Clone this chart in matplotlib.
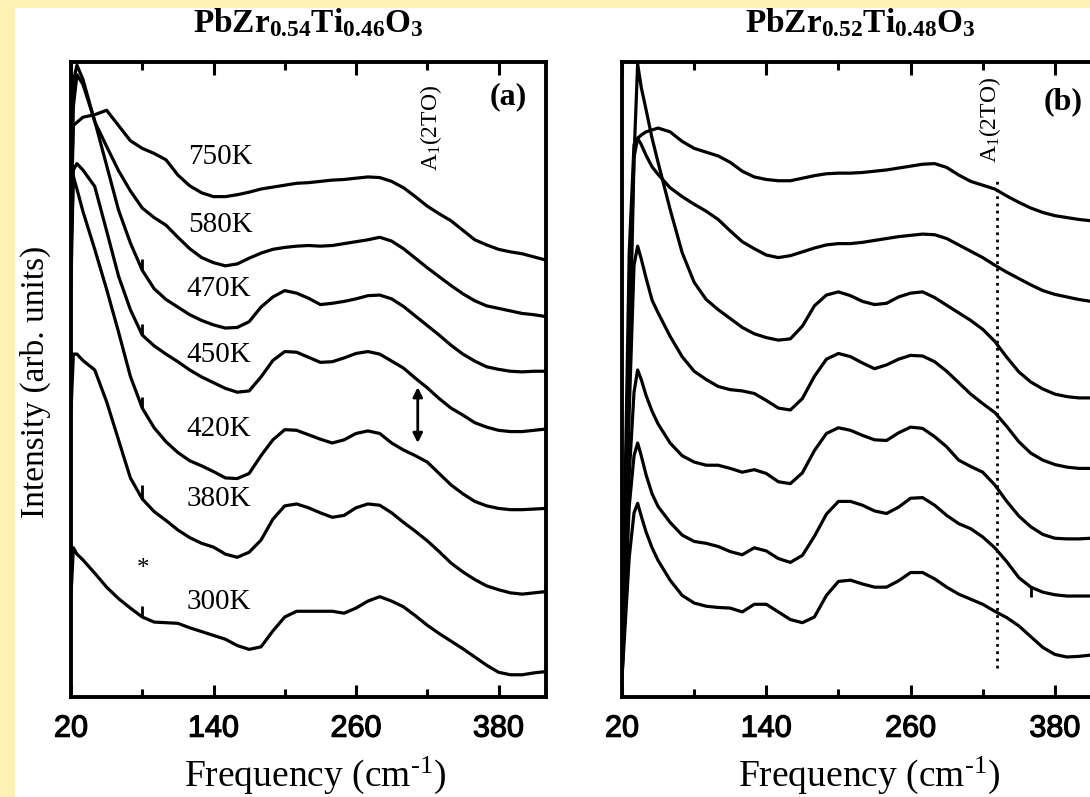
import matplotlib
matplotlib.use('Agg')
from matplotlib import pyplot as plt
from matplotlib import patheffects
from matplotlib.patches import Rectangle

# fonts: serif for labels, sans for tick numbers
plt.rcParams['font.family'] = 'Liberation Sans'
plt.rcParams['mathtext.fontset'] = 'custom'
plt.rcParams['mathtext.rm'] = 'Liberation Serif'
plt.rcParams['mathtext.it'] = 'Liberation Serif:italic'
plt.rcParams['mathtext.bf'] = 'Liberation Serif:bold'
SERIF = 'Liberation Serif'

# ---- panel (a): PbZr0.54Ti0.46O3, intensity in arb. units (0-100 of the frame)
freq_a = [20, 22, 25, 30, 40, 50, 60, 70, 80, 90, 100, 110, 120, 130, 140, 150, 160, 170,
          180, 190, 200, 210, 220, 230, 240, 250, 260, 270, 280, 290, 300, 310, 320, 330,
          340, 350, 360, 370, 380, 390, 400, 410, 420]
a_750K = [75, 90, 90.5, 91.3, 91.7, 92.4, 90, 87.6, 86.4, 85.6, 84.6, 82.2, 80.5, 79.4, 78.8,
          78.8, 79.1, 79.5, 80, 80.3, 80.6, 80.9, 81, 81.2, 81.4, 81.5, 81.7, 81.9, 81.8, 81.2,
          80.2, 78.8, 77.3, 76.1, 75, 73.5, 72, 71.2, 70.5, 70.1, 69.8, 69.3, 68.8]
a_580K = [85, 97, 99.5, 97.3, 90.6, 86.7, 82.9, 79.7, 77, 75.5, 74.3, 72.4, 70.6, 69.2, 68.4,
          67.9, 68.2, 69.1, 69.9, 70.5, 70.8, 71, 71.1, 71, 71.1, 71.4, 71.7, 72, 72.4, 71.8,
          70.6, 69.1, 67.6, 66.2, 64.8, 63.5, 62.4, 61.6, 61.2, 60.8, 60.4, 60.2, 59.9]
a_470K = [75, 93, 98, 96.5, 90.7, 83.7, 76.7, 71.5, 67.2, 64.3, 62.6, 61.4, 60.2, 59.3, 58.6,
          58.1, 58.2, 59.1, 61.4, 63, 64, 63.6, 62.8, 61.8, 62, 62.3, 62.7, 63.2, 63.3, 62.7,
          61.5, 60, 58.5, 57, 55.4, 54, 52.9, 52, 51.6, 51.3, 51.2, 51.3, 51.3]
a_450K = [65, 83, 84, 83, 80.4, 73.4, 66.3, 61, 57, 55.3, 54, 52.8, 51.5, 50.4, 49.5,
          48.6, 48, 48.2, 50.4, 53, 54.4, 54.3, 53.5, 52.7, 52.8, 53.4, 54.1, 54.4, 54, 52.9,
          51.8, 50.2, 48.7, 47, 45.5, 44.4, 43.2, 42.5, 42, 41.8, 41.8, 42, 42.2]
a_420K = [70, 82, 80, 76.5, 70.5, 64.2, 57.5, 50.5, 45.5, 42.4, 40.2, 38.5, 37.2, 36.4, 35.5,
          34.5, 34.4, 35.2, 38, 40.5, 42.1, 42, 41.3, 40.6, 40, 40.5, 41.5, 41.9, 41.5, 40,
          38.9, 38, 37, 35.2, 33.4, 32, 30.8, 30.1, 29.7, 29.5, 29.5, 29.6, 29.7]
a_380K = [45, 54, 54, 53, 51.5, 46.5, 40.5, 34.5, 31.2, 29.2, 27.8, 26.3, 25.1, 24.2, 23.6,
          22.5, 22, 22.8, 24.7, 28, 30.1, 30.4, 29.8, 29, 28.3, 28.6, 29.8, 30.4, 30.2, 29,
          27.5, 26.1, 24.6, 22.9, 21.1, 19.7, 18.5, 17.5, 16.9, 16.4, 16.2, 16.4, 16.6]
a_300K = [16, 23.5, 22.5, 21.6, 19.5, 17.3, 15.5, 14, 12.6, 11.8, 11.7, 11.6, 10.9, 10.3, 9.7,
          9.1, 8.1, 7.5, 7.9, 10.4, 12.6, 13.5, 13.5, 13.5, 13.5, 13.2, 14, 15.1, 15.8, 15.1,
          14.2, 12.8, 11.3, 10, 8.8, 7.6, 6.3, 5, 3.9, 3.5, 3.5, 3.8, 4]
curves_a = [a_750K, a_580K, a_470K, a_450K, a_420K, a_380K, a_300K]
temps_a = ['750K', '580K', '470K', '450K', '420K', '380K', '300K']
# where each temperature label sits (frequency, intensity)
temp_label_f = [119, 119, 117, 117, 117, 117, 117]
temp_label_v = [85, 74.3, 64.3, 53.9, 42.2, 31.2, 15]
# narrow plasma line near 80 cm-1 (height above the curve, arb. units)
spike_a_freq = 80
spike_a_height = [0, 0, 1.8, 1.8, 1.8, 2.2, 1.8]

# ---- panel (b): PbZr0.52Ti0.48O3
freq_b = [20, 26, 30, 33, 36, 40, 45, 50, 60, 70, 80, 90, 100, 110, 120, 130, 140, 150,
          160, 170, 180, 190, 200, 210, 220, 230, 240, 250, 260, 270, 280, 290, 300, 310,
          320, 330, 340, 350, 360, 370, 380, 390, 400, 410]
b_1 = [5, 60, 85, 88, 88.5, 89, 89.3, 89.6, 89, 87.5, 86.4, 85.8, 85.2, 84.2, 82.8, 81.9,
       81.5, 81.3, 81.3, 81.7, 82.1, 82.4, 82.5, 82.5, 82.6, 82.8, 83, 83.3, 83.6, 83.9, 84,
       83.4, 82.2, 81.2, 80.6, 80, 78.9, 77.9, 77, 76.3, 75.8, 75.5, 75.2, 75]
b_2 = [5, 70, 87, 88, 87, 85.3, 83.5, 82.3, 80.2, 78.8, 77.6, 76.5, 75.2, 73.4, 71.7, 70.6,
       69.6, 69.2, 69.5, 70.1, 70.7, 71.2, 71.4, 71.4, 71.6, 71.9, 72.2, 72.5, 72.7, 72.9,
       72.8, 72.2, 71.2, 70.2, 69.2, 68, 66.9, 65.9, 64.9, 64, 63.4, 63, 62.6, 62.3]
b_3 = [3, 50, 85, 99.7, 96, 92.5, 88, 84.2, 76.8, 70, 65.3, 62.6, 61, 59.6, 58.2, 57.2,
       56.6, 56.2, 56.4, 58.4, 61.6, 63.3, 63.8, 63.2, 62.3, 61.8, 62, 63, 63.6, 63.8, 62.9,
       61.7, 60.5, 59.3, 57.9, 56, 53.5, 51.2, 49.6, 48.5, 47.7, 47.3, 47.1, 47.1]
b_4 = [3, 45, 68, 71, 69, 66, 62.5, 60.5, 56.8, 53.6, 51.3, 50, 48.9, 48.4, 48.2, 47.8,
       46.7, 45.5, 45.2, 47, 50.5, 53.2, 54.1, 53.6, 52.6, 51.7, 52.3, 53.2, 53.8, 53.7,
       52.8, 51.3, 49.5, 47.7, 46.2, 44.8, 42.6, 40.2, 38.4, 37.3, 36.6, 36.2, 36, 36]
b_5 = [3, 35, 48, 51.5, 50, 47.5, 45, 43, 40, 38, 37, 36.5, 36.5, 36, 35.4, 35.8, 35.2,
       33.9, 33.6, 35.3, 38.8, 41.5, 42.4, 42, 41.2, 40.5, 40.4, 41.6, 42.5, 42.3, 41,
       39.4, 37.3, 36.3, 35.4, 33.4, 30.8, 28.5, 26.8, 25.6, 25, 24.9, 24.9, 25]
b_6 = [3, 30, 38, 40, 38, 35, 32, 30, 27.5, 25.5, 24.5, 24.2, 23.7, 22.9, 22.4, 23.5, 23,
       21.8, 21.2, 22.3, 25.3, 28.8, 30.8, 30.8, 30.2, 29.3, 28.9, 29.9, 31.3, 31.4, 30.2,
       28.6, 27.3, 26.5, 25.2, 23.5, 21.3, 18.8, 17.3, 16.5, 16.1, 15.9, 15.9, 15.9]
b_7 = [3, 22, 29, 30.5, 28.5, 26, 23.5, 21.5, 18.4, 16, 14.8, 14.3, 14.1, 14, 13.4, 14.6,
       14.6, 13.4, 12.2, 11.7, 12.6, 16, 18.2, 18.4, 17.8, 17.3, 17.3, 18.3, 19.6, 19.6,
       18.6, 17.3, 16.2, 15.4, 14.6, 13.5, 12.5, 11.2, 9.5, 7.8, 6.7, 6.3, 6.4, 6.6]
curves_b = [b_1, b_2, b_3, b_4, b_5, b_6, b_7]
# small dip spike on the sixth spectrum of (b)
spike_b_freq = 360
spike_b_height = [0, 0, 0, 0, 0, -1.6, 0]

x_ticks = [20, 140, 260, 380]
x_minor = [80, 200, 320]
a1_freq_b = 332            # dotted A1(2TO) marker in (b)
a1_span_b = (4.6, 81.4)
arrow_freq_a = 312         # double arrow in (a)
arrow_span_a = (40, 48.8)

W, H = 1090, 797
fig = plt.figure(figsize=(W / 100, H / 100), dpi=100)
# pale yellow frame on the top and left edge
fig.set_facecolor('#fcf3b3')
fig.patches.append(Rectangle((15 / W, 0), 1, 1 - 8 / H, transform=fig.transFigure,
                             facecolor='white', edgecolor='none', zorder=-5))

ax_a = fig.add_axes([71 / W, 100 / H, 475 / W, 635 / H])
ax_b = fig.add_axes([622 / W, 100 / H, 481 / W, 635 / H])

thicken = [patheffects.withStroke(linewidth=0.9, foreground='black')]


def style_axis(ax, width_px):
    ax.set_xlim(20, 420)
    ax.set_ylim(0, 100)
    ax.set_yticks([])
    ax.set_xticks(x_ticks)
    ax.set_xticks(x_minor, minor=True)
    ax.tick_params(axis='x', which='both', direction='in', top=True, width=2.2,
                   labelsize=22, pad=12)
    ax.tick_params(axis='x', which='major', length=9)
    ax.tick_params(axis='x', which='minor', length=6)
    for label in ax.get_xticklabels():
        label.set_path_effects(thicken)
    for spine in ax.spines.values():
        spine.set_linewidth(2.8)
    ax.set_xlabel(r'Frequency (cm$^{\text{-1}}$)', family=SERIF, fontsize=27)
    ax.xaxis.set_label_coords(0.5 + 6 / width_px, -0.09)


style_axis(ax_a, 475)
style_axis(ax_b, 481)


def draw_spectra(ax, freq, curves, spike_f, spike_h):
    i = freq.index(spike_f)
    for vals, h in zip(curves, spike_h):
        ax.plot(freq, vals, color='black', lw=2.3, solid_joinstyle='round')
        if h:
            ax.vlines(spike_f, vals[i], vals[i] + h, color='black', lw=2)


draw_spectra(ax_a, freq_a, curves_a, spike_a_freq, spike_a_height)
draw_spectra(ax_b, freq_b, curves_b, spike_b_freq, spike_b_height)

# temperature labels
for name, f, v in zip(temps_a, temp_label_f, temp_label_v):
    ax_a.text(f, v, name, family=SERIF, fontsize=21, ha='left', va='center')
ax_a.text(81, 20.2, '*', family=SERIF, fontsize=18, ha='center', va='center')

# panel markers and mode labels
ax_a.text(388, 94.6, '(a)', family=SERIF, fontweight='bold', fontsize=23, ha='center', va='center')
ax_b.text(387, 93.7, '(b)', family=SERIF, fontweight='bold', fontsize=23, ha='center', va='center')
ax_a.text(323, 89.6, 'A$_1$(2TO)', family=SERIF, fontsize=17, rotation=90, ha='center', va='center')
ax_b.text(326, 90.9, 'A$_1$(2TO)', family=SERIF, fontsize=17, rotation=90, ha='center', va='center')

ax_b.plot([a1_freq_b, a1_freq_b], a1_span_b, color='black', lw=2, linestyle=(0, (1, 1.6)))
ax_a.annotate('', xy=(arrow_freq_a, arrow_span_a[1]), xytext=(arrow_freq_a, arrow_span_a[0]),
              arrowprops=dict(arrowstyle='<|-|>', color='black', lw=2, mutation_scale=14,
                              shrinkA=0, shrinkB=0))

# titles and shared y label
fig.text(308.5 / W, 1 - 32 / H, r'$\mathbf{PbZr_{0.54}Ti_{0.46}O_3}$', fontsize=24,
         ha='center', va='baseline')
fig.text(860 / W, 1 - 32 / H, r'$\mathbf{PbZr_{0.52}Ti_{0.48}O_3}$', fontsize=24,
         ha='center', va='baseline')
fig.text(35 / W, 1 - 382 / H, 'Intensity (arb. units)', family=SERIF, fontsize=24,
         rotation=90, ha='center', va='center')

fig.savefig('out.png', dpi=100, facecolor=fig.get_facecolor())
